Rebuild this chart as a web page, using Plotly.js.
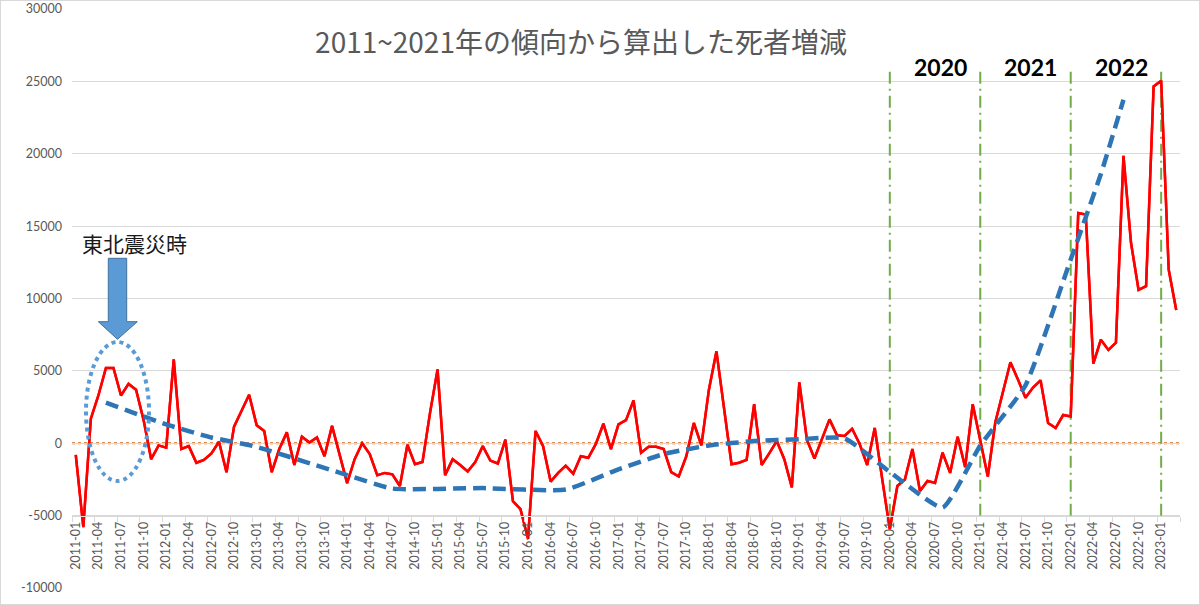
<!DOCTYPE html>
<html>
<head>
<meta charset="utf-8">
<script src="https://cdn.plot.ly/plotly-3.0.1.min.js"></script>
<style>
  html, body { margin: 0; padding: 0; background: #fff; }
  #wrap { width: 1200px; height: 605px; box-sizing: border-box; border: 1px solid #d9d9d9; overflow: hidden; }
  #chart { width: 1198px; height: 603px; }
</style>
</head>
<body>
<div id="wrap"><div id="chart"></div></div>
<script>
// ---- categories: months 2011-01 .. 2023-03 ----
var months = [];
for (var yr = 2011; yr <= 2023; yr++) {
  for (var m = 1; m <= 12; m++) {
    if (yr === 2023 && m > 3) break;
    months.push(yr + '-' + (m < 10 ? '0' + m : '' + m));
  }
}

// ---- monthly deviation of deaths from the 2011~2021 trend ----
var deathDiff = [
  -800, -5800, 1700, 3300, 5200, 5200, 3300, 4100, 3700, 1600, -1100, -150,      // 2011
  -300, 5800, -400, -200, -1350, -1150, -700, 100, -2000, 1150, 2250, 3350,      // 2012
  1250, 850, -2000, -400, 750, -1500, 450, 50, 400, -900, 1200, -750,            // 2013
  -2750, -1100, 0, -750, -2200, -2050, -2150, -2950, -100, -1450, -1300, 2100,   // 2014
  5100, -2200, -1100, -1500, -1950, -1300, -200, -1200, -1400, 250, -4000, -4550,// 2015
  -6600, 850, -200, -2650, -2050, -1550, -2100, -900, -1000, -50, 1350, -400,    // 2016
  1300, 1600, 2950, -650, -250, -250, -400, -2000, -2300, -900, 1400, -150,      // 2017
  3700, 6350, 2400, -1450, -1350, -1150, 2700, -1500, -700, 150, -1100, -3050,   // 2018
  4200, 250, -1050, 250, 1650, 550, 500, 1000, -50, -1500, 1050, -2500,          // 2019
  -5950, -2950, -2500, -400, -3300, -2600, -2750, -650, -2050, 450, -1650, 2700, // 2020
  150, -2300, 1450, 3600, 5600, 4400, 3150, 3850, 4350, 1400, 1050, 1950,        // 2021
  1850, 15900, 15800, 5500, 7150, 6450, 6950, 19850, 13850, 10600, 10850, 24650, // 2022
  25050, 12000, 9200                                                             // 2023
];

// ---- blue dashed trend (read points) ----
var trendMonths = ['2011-05','2012-01','2012-07','2013-01','2014-01','2014-07','2015-07','2016-06',
                   '2017-01','2017-07','2018-01','2018-07','2019-01','2019-07','2020-01','2020-08',
                   '2021-01','2021-07','2022-01','2022-05','2022-08'];
var trendValues = [2800, 1300, 400, -250, -2200, -3130, -3100, -3200,
                   -1800, -750, -150, 150, 280, 340, -1980, -4440,
                   -150, 4000, 12700, 18600, 23730];

// ---- year separators & labels ----
var yearStarts = ['2020-01', '2021-01', '2022-01', '2023-01'];
var yearLabels = ['2020', '2021', '2022'];
var sepLow = -5000, sepHigh = 26000;

// ---- axis ticks ----
var yTickVals = [-10000, -5000, 0, 5000, 10000, 15000, 20000, 25000, 30000];
var yTickText = ['-10000', '-5000', '0', '5000', '10000', '15000', '20000', '25000', '30000'];

var titleText = '2011~2021年の傾向から算出した死者増減';
var noteText = '東北震災時';

var traces = [];
traces.push({
  x: months, y: deathDiff, type: 'scatter', mode: 'lines',
  line: { color: '#ff0000', width: 2.5 }, showlegend: false
});
yearStarts.forEach(function (c) {
  traces.push({
    x: [c, c], y: [sepLow, sepHigh], type: 'scatter', mode: 'lines',
    line: { color: '#70ad47', width: 2, dash: '12px,5px,2px,5px' },
    hoverinfo: 'skip', showlegend: false
  });
});
// keep red line above the green separators
traces.push({
  x: months, y: deathDiff, type: 'scatter', mode: 'lines',
  line: { color: '#ff0000', width: 2.5 }, showlegend: false
});
traces.push({
  x: trendMonths, y: trendValues, type: 'scatter', mode: 'lines',
  line: { color: '#2e75b6', width: 4.5, dash: '13px,7px', shape: 'spline', smoothing: 0.45 },
  showlegend: false
});

// pixel -> paper helpers for decoration shapes (plot area 72..1180 x 9..588 in page px)
function px(xp) { return (xp - 72) / 1108; }
function py(yp) { return (588 - yp) / 579; }

var annotations = [];
yearLabels.forEach(function (t, k) {
  var idx = months.indexOf(yearStarts[k]);
  annotations.push({
    x: idx + 6.7, y: py(67), xref: 'x', yref: 'paper',
    text: '<b>' + t + '</b>', showarrow: false, xanchor: 'center', yanchor: 'middle',
    font: { family: 'Lato, "Liberation Sans", sans-serif', size: 23, color: '#000000' }
  });
});
annotations.push({
  x: px(80), y: py(243), xref: 'paper', yref: 'paper', xanchor: 'left', yanchor: 'middle',
  text: noteText, showarrow: false,
  font: { family: '"Noto Sans CJK JP", sans-serif', size: 21, color: '#1a1a1a' }
});

var arrowPath = 'M ' + px(108.3) + ' ' + py(258.3) +
  ' L ' + px(126.7) + ' ' + py(258.3) +
  ' L ' + px(126.7) + ' ' + py(321.7) +
  ' L ' + px(137.3) + ' ' + py(321.7) +
  ' L ' + px(117.5) + ' ' + py(339.3) +
  ' L ' + px(98.3) + ' ' + py(321.7) +
  ' L ' + px(108.3) + ' ' + py(321.7) + ' Z';

var shapes = [
  { type: 'line', xref: 'paper', yref: 'y', x0: 0, x1: 1, y0: 0, y1: 0, layer: 'between',
    line: { color: '#d2691e', width: 1.8, dash: 'dot' } },
  { type: 'circle', xref: 'paper', yref: 'paper', x0: px(86), x1: px(149), y0: py(481), y1: py(342),
    line: { color: '#5b9bd5', width: 4, dash: 'dot' } },
  { type: 'path', xref: 'paper', yref: 'paper', path: arrowPath,
    fillcolor: '#5b9bd5', line: { color: '#41719c', width: 1 } }
];

var layout = {
  width: 1198, height: 603,
  margin: { l: 71, r: 19, t: 8, b: 16 },
  paper_bgcolor: '#ffffff', plot_bgcolor: '#ffffff',
  showlegend: false,
  title: {
    text: titleText, xref: 'container', yref: 'container',
    x: 581 / 1200, xanchor: 'center', y: 1 - 42 / 605, yanchor: 'middle',
    font: { family: '"Noto Sans CJK JP", sans-serif', size: 28, color: '#595959' }
  },
  xaxis: {
    type: 'category', categoryorder: 'array', categoryarray: months,
    range: [-0.5, months.length - 0.5],
    anchor: 'free', position: 0.125,
    tickmode: 'linear', tick0: 0, dtick: 3, tickangle: -90,
    tickfont: { family: 'Lato, "Liberation Sans", sans-serif', size: 12.5, color: '#595959' },
    showline: true, linecolor: '#d9d9d9', linewidth: 1,
    ticks: 'outside', ticklen: 5, tickcolor: '#d9d9d9', tickson: 'boundaries',
    showgrid: false, zeroline: false, fixedrange: true
  },
  yaxis: {
    range: [-10000, 30000], tickmode: 'array', tickvals: yTickVals, ticktext: yTickText,
    tickfont: { family: 'Lato, "Liberation Sans", sans-serif', size: 12.5, color: '#595959' },
    gridcolor: '#d9d9d9', gridwidth: 1, zeroline: false, showline: false,
    ticks: '', ticklabelstandoff: 9, fixedrange: true
  },
  annotations: annotations,
  shapes: shapes
};

Plotly.newPlot('chart', traces, layout, { displayModeBar: false, staticPlot: true });
</script>
</body>
</html>
